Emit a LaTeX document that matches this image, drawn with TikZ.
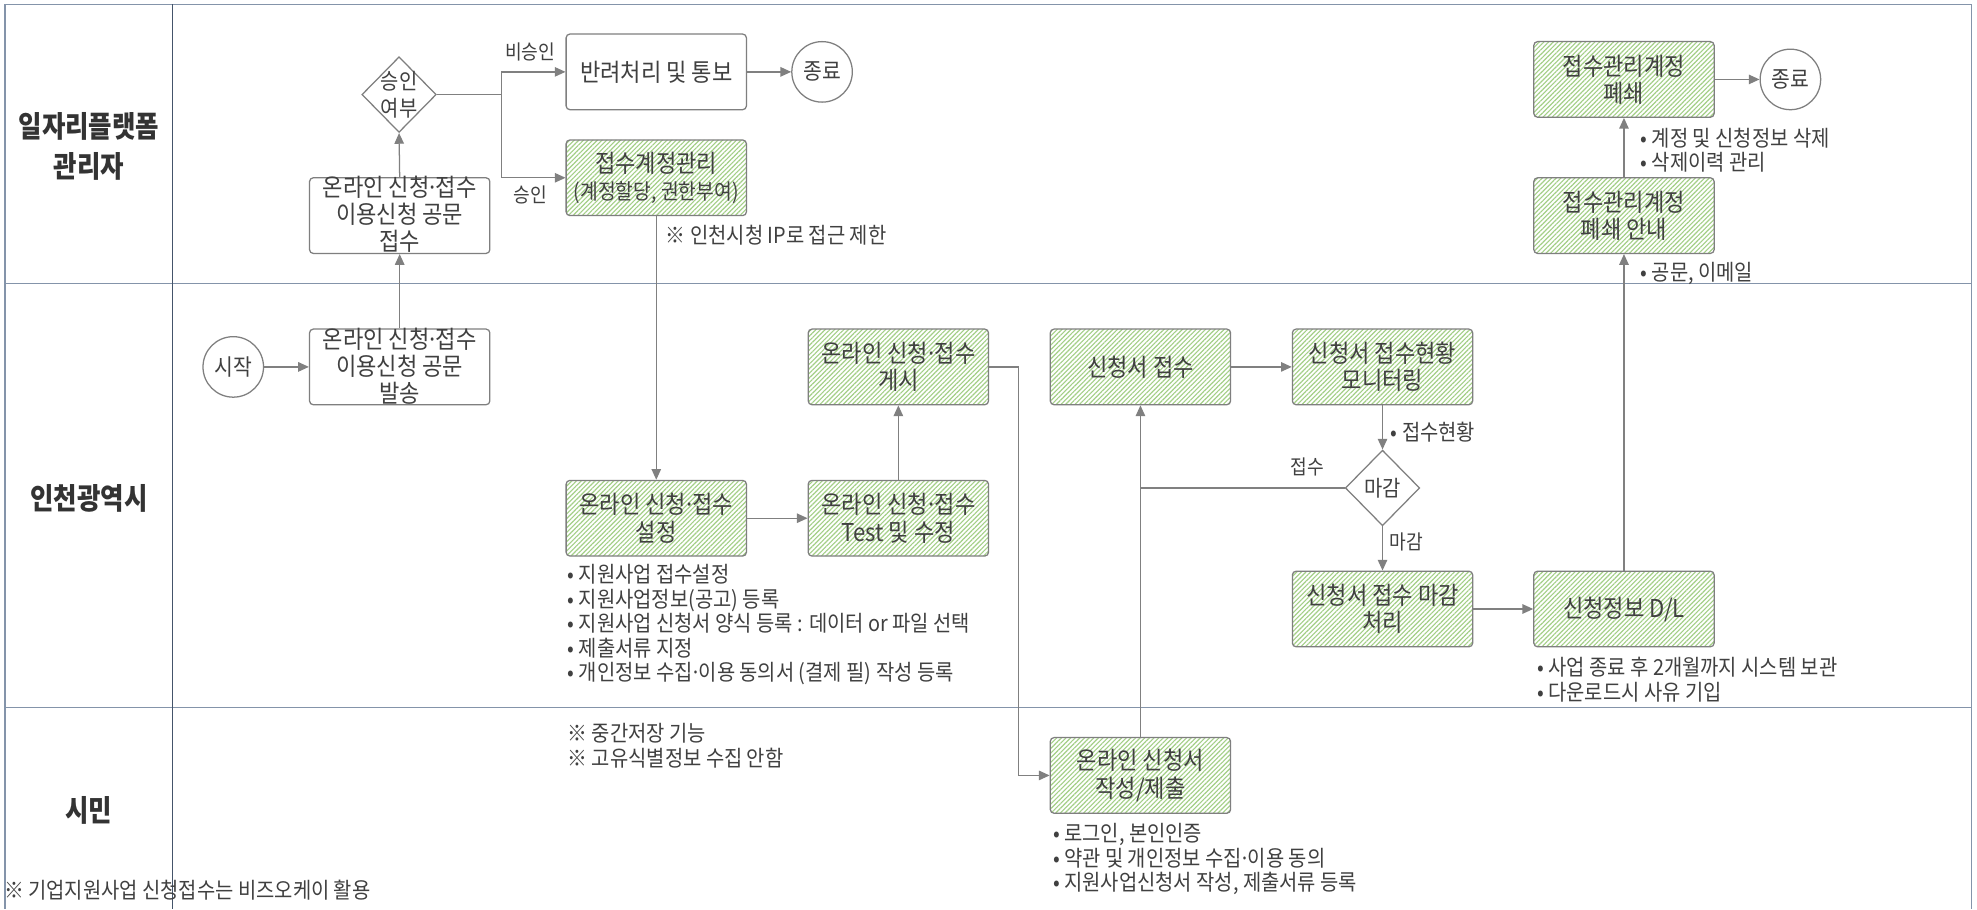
\documentclass[tikz,border=0pt]{standalone}
\usepackage{fontspec}
\setmainfont[FakeStretch=0.9]{Noto Sans CJK KR}
\newfontfamily\lanefont[FakeStretch=0.86]{Noto Sans CJK KR}
\usetikzlibrary{shapes.geometric,arrows.meta,patterns.meta}
\newcommand{\mdot}{\kern-0.12em·\kern-0.12em}
\definecolor{txt}{HTML}{404040}
\definecolor{lanetxt}{HTML}{333333}
\definecolor{conncol}{HTML}{808080}
\definecolor{boxcol}{HTML}{7F7F7F}
\definecolor{hatchcol}{HTML}{A3CF86}
\definecolor{lanecol}{HTML}{8494AA}
\definecolor{divcol}{HTML}{44546A}
\begin{document}
\begin{tikzpicture}[x=1pt,y=-1pt,
  laneline/.style={draw=lanecol,line width=1.2pt},
  lanediv/.style={draw=divcol,line width=0.8pt},
  lanelab/.style={text=lanetxt,font={\lanefont\bfseries\fontsize{23.5}{31.5}\selectfont},align=center,inner sep=0pt},
  wbox/.style={draw=boxcol,line width=1pt,rounded corners=3pt,minimum width=143pt,minimum height=60pt,inner sep=0pt,fill=white,
    text=txt,font={\fontsize{19.5}{21.5}\selectfont},align=center},
  gbox/.style={wbox,fill=none,pattern={Lines[angle=45,distance=2.6pt,line width=0.9pt]},pattern color=hatchcol},
  btxt/.style={text=txt,font={\fontsize{19.5}{21.5}\selectfont},align=center,inner sep=0pt},
  circ/.style={circle,draw=boxcol,line width=1pt,fill=white,minimum size=48pt,inner sep=0pt,text=txt,font={\fontsize{18}{20}\selectfont}},
  dia/.style={diamond,draw=boxcol,line width=1pt,fill=white,minimum width=59pt,minimum height=60pt,inner sep=0pt},
  dtxt/.style={text=txt,font={\fontsize{17.5}{21}\selectfont},align=center,inner sep=0pt},
  ntxt/.style={text=txt,font={\fontsize{17.5}{19.5}\selectfont},align=left,inner sep=0pt,anchor=west},
  ltxt/.style={text=txt,font={\fontsize{16}{18}\selectfont},inner sep=0pt},
  cline/.style={draw=conncol,line width=1pt},
  carrow/.style={cline,-{Triangle[length=8.5pt,width=7.5pt]}}
]
\useasboundingbox (0,0) rectangle (1568,721);
\fill[white] (0,0) rectangle (1568,721);

% swimlanes
\draw[laneline] (4,3.5) -- (1563.5,3.5);
\draw[laneline] (4,3.5) -- (4,721);
\draw[laneline] (1563.5,3.5) -- (1563.5,721);
\draw[laneline] (4,225) -- (1563.5,225);
\draw[laneline] (4,561) -- (1563.5,561);
\draw[lanediv] (136.5,3.5) -- (136.5,721);

\node[lanelab] (L1) at (70.5,116) {일자리플랫폼\\관리자};
\node[lanelab] (L2) at (70.5,395) {인천광역시};
\node[lanelab] (L3) at (70.5,642.5) {시민};

% lane 1
\node[dia] (d1) at (316.5,75) {};
\node[dtxt] (d1t) at (d1) {승인\\여부};
\node[wbox] (b1) at (317,171) {};
\node[btxt] (b1t) at (317,170) {온라인 신청\mdot 접수\\이용신청 공문\\접수};
\node[wbox] (rej) at (520.5,57) {반려처리 및 통보};
\node[circ] (end1) at (652,57) {종료};
\node[gbox] (acct) at (520.5,141) {접수계정관리\\\fontsize{17}{21.5}\selectfont(계정할당, 권한부여)};
\node[ntxt] (n1) at (528,186.5) {※ 인천시청 IP로 접근 제한};
\node[ltxt] (lab1) at (420.5,41) {비승인};
\node[ltxt] (lab2) at (420.5,155) {승인};

\node[gbox] (cacc) at (1288,63) {접수관리계정\\폐쇄};
\node[circ] (end2) at (1420,63) {종료};
\node[gbox] (notice) at (1288,171) {접수관리계정\\폐쇄 안내};
\node[ntxt] (n2) at (1301,119) {• 계정 및 신청정보 삭제\\• 삭제이력 관리};
\node[ntxt] (n3) at (1301,217) {• 공문, 이메일};

% lane 2
\node[circ] (start) at (185,291) {시작};
\node[wbox] (b2) at (317,291) {};
\node[btxt] (b2t) at (317,290.5) {온라인 신청\mdot 접수\\이용신청 공문\\발송};
\node[gbox] (set) at (520.5,411) {온라인 신청\mdot 접수\\설정};
\node[ntxt] (n4) at (450,495.5) {• 지원사업 접수설정\\• 지원사업정보(공고) 등록\\• 지원사업 신청서 양식 등록 : 데이터 or 파일 선택\\• 제출서류 지정\\• 개인정보 수집\mdot 이용 동의서 (결제 필) 작성 등록};
\node[gbox] (test) at (712.5,411) {온라인 신청\mdot 접수\\Test 및 수정};
\node[gbox] (post) at (712.5,291) {온라인 신청\mdot 접수\\게시};
\node[gbox] (recv) at (904.5,291) {신청서 접수};
\node[gbox] (mon) at (1096.5,291) {신청서 접수현황\\모니터링};
\node[ntxt] (n5) at (1103,342.5) {• 접수현황};
\node[dia] (d2) at (1096.5,387) {};
\node[dtxt] (d2t) at (d2) {마감};
\node[ltxt] (lab3) at (1037,370) {접수};
\node[ltxt,anchor=west] (lab4) at (1102,430) {마감};
\node[gbox] (close) at (1096.5,483) {신청서 접수 마감\\처리};
\node[gbox] (dl) at (1288,483) {신청정보 D/L};
\node[ntxt] (n6) at (1219,539) {• 사업 종료 후 2개월까지 시스템 보관\\• 다운로드시 사유 기입};

% lane 3
\node[ntxt,font={\fontsize{17.5}{20}\selectfont}] (n7) at (450,591.5) {※ 중간저장 기능\\※ 고유식별정보 수집 안함};
\node[gbox] (write) at (904.5,615) {온라인 신청서\\작성/제출};
\node[ntxt] (n8) at (835,681.5) {• 로그인, 본인인증\\• 약관 및 개인정보 수집\mdot 이용 동의\\• 지원사업신청서 작성, 제출서류 등록};
\node[ntxt] (n9) at (3,706) {※ 기업지원사업 신청접수는 비즈오케이 활용};

% connectors
\coordinate (j1) at (397.5,75);
\coordinate (j2) at (808,291);
\coordinate (j3) at (904.5,387);
\draw[carrow] (start.east) -- (b2.west);
\draw[carrow] (b2.north) -- (b1.south);
\draw[carrow] (b1.north) -- (d1.south);
\draw[cline] (d1.east) -- (j1);
\draw[carrow] (j1) |- (rej.west);
\draw[carrow] (j1) |- (acct.west);
\draw[carrow] (rej.east) -- (end1.west);
\draw[carrow] (acct.south) -- (set.north);
\draw[carrow] (set.east) -- (test.west);
\draw[carrow] (test.north) -- (post.south);
\draw[carrow] (post.east) -- (j2) |- (write.west);
\draw[carrow] (write.north) -- (recv.south);
\draw[cline] (d2.west) -- (j3);
\draw[carrow] (recv.east) -- (mon.west);
\draw[carrow] (mon.south) -- (d2.north);
\draw[carrow] (d2.south) -- (close.north);
\draw[carrow] (close.east) -- (dl.west);
\draw[carrow] (dl.north) -- (notice.south);
\draw[carrow] (notice.north) -- (cacc.south);
\draw[carrow] (cacc.east) -- (end2.west);
\end{tikzpicture}
\end{document}
